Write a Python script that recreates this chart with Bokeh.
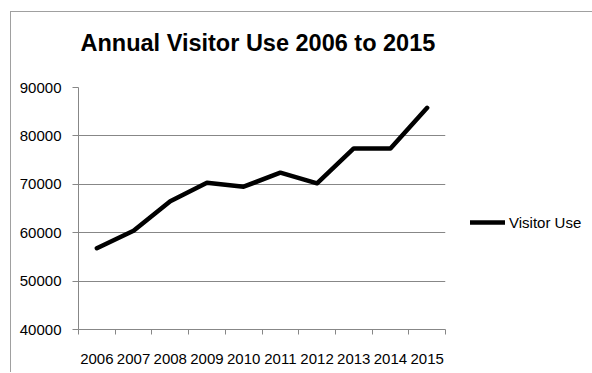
from bokeh.plotting import figure
from bokeh.models import Range1d, FixedTicker, Legend, LegendItem, LinearAxis
from bokeh.embed import file_html
from bokeh.resources import INLINE

years = ["2006", "2007", "2008", "2009", "2010", "2011", "2012", "2013", "2014", "2015"]
visitor_use = [56800, 60400, 66500, 70300, 69500, 72400, 70200, 77400, 77400, 85800]
y_ticks = [40000, 50000, 60000, 70000, 80000, 90000]
title_text = "Annual Visitor Use 2006 to 2015"
series_name = "Visitor Use"

xs = [i + 0.5 for i in range(len(years))]
bounds = [float(i) for i in range(len(years) + 1)]

FONT = "Liberation Sans"
GREY = "#878787"

p = figure(frame_width=367, frame_height=242, output_backend="svg", toolbar_location=None,
           x_range=Range1d(0, len(years)), y_range=Range1d(y_ticks[0], y_ticks[-1]),
           min_border_left=67, min_border_right=146, min_border_top=75, min_border_bottom=43)
p.styles = {"margin-left": "10px", "margin-top": "11px",
            "border-top": "1px solid #a0a0a0", "border-left": "1px solid #a0a0a0"}
p.outline_line_color = None
p.background_fill_color = "white"
p.border_fill_color = "white"

p.title.text = title_text
p.title.text_font = FONT
p.title.text_font_size = "23.5px"
p.title.text_font_style = "bold"
p.title.text_color = "black"
p.title.align = "left"
p.title.offset = 2
p.title.standoff = 10

r = p.line(xs, visitor_use, line_width=4.5, line_color="black", line_join="round", line_cap="round")

# bottom x axis
xa = p.below[0]
xa.ticker = FixedTicker(ticks=xs, minor_ticks=bounds)
xa.major_label_overrides = {x: y for x, y in zip(xs, years)}
xa.major_tick_out = 0
xa.major_tick_in = 0
xa.minor_tick_out = 5
xa.minor_tick_in = 0
xa.minor_tick_line_color = GREY
xa.axis_line_color = GREY
xa.major_label_text_font = FONT
xa.major_label_text_font_size = "15px"
xa.major_label_text_color = "black"
xa.major_label_standoff = 19

# y axis
ya = p.left[0]
ya.ticker = FixedTicker(ticks=y_ticks)
ya.major_tick_out = 6
ya.major_tick_in = 0
ya.minor_tick_out = 0
ya.minor_tick_in = 0
ya.major_tick_line_color = GREY
ya.axis_line_color = GREY
ya.major_label_text_font = FONT
ya.major_label_text_font_size = "15px"
ya.major_label_text_color = "black"
ya.major_label_standoff = 11

p.xgrid.visible = False
p.ygrid[0].ticker = FixedTicker(ticks=y_ticks)
p.ygrid.grid_line_color = GREY
p.ygrid.grid_line_width = 1

# invisible spacer between the plot frame and the title
spacer = LinearAxis(ticker=FixedTicker(ticks=xs), major_tick_out=27, major_tick_in=0,
                    minor_tick_out=0, minor_tick_in=0, major_label_standoff=0,
                    axis_line_color=None, major_tick_line_color=None, minor_tick_line_color=None,
                    major_label_overrides={x: "" for x in xs},
                    major_label_text_font_size="1px")
p.add_layout(spacer, "above")

legend = Legend(items=[LegendItem(label=series_name, renderers=[r])],
                location=(25, 97), padding=0, margin=0, spacing=0,
                border_line_color=None, background_fill_alpha=0,
                glyph_width=35, glyph_height=20, label_standoff=4,
                label_text_font=FONT, label_text_font_size="15px", label_text_color="black")
p.add_layout(legend, "right")

open("out.html", "w").write(file_html(p, INLINE))
